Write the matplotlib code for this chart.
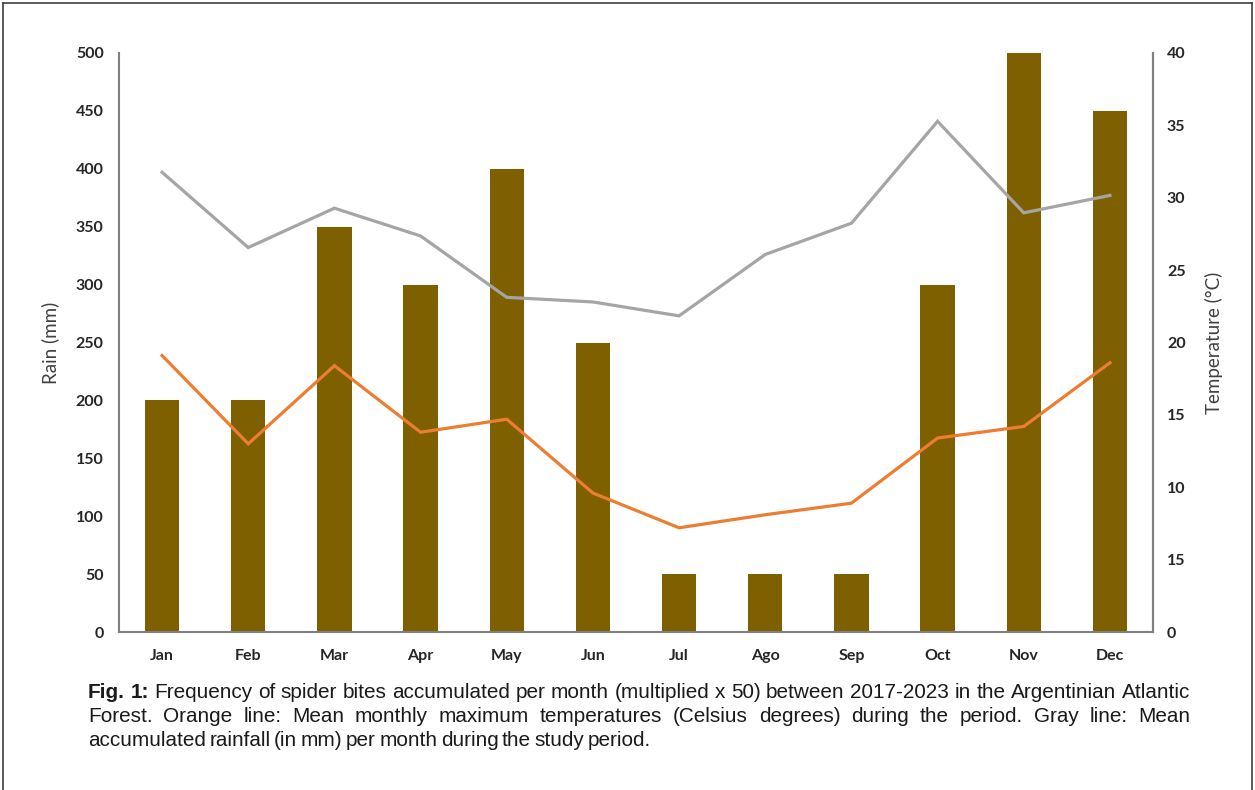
import matplotlib
matplotlib.use("Agg")
import matplotlib.pyplot as plt
from matplotlib.lines import Line2D
from matplotlib import font_manager

# ---------------- data ----------------
months = ["Jan", "Feb", "Mar", "Apr", "May", "Jun", "Jul", "Ago", "Sep", "Oct", "Nov", "Dec"]
bites_x50 = [200, 200, 350, 300, 400, 250, 50, 50, 50, 300, 500, 450]
rain_mm = [397, 332, 366, 342, 289, 285, 273, 326, 353, 441, 362, 377]
temp_max = [19.1, 13.0, 18.4, 13.8, 14.7, 9.6, 7.2, 8.1, 8.9, 13.4, 14.2, 18.6]
left_ticks = [0, 50, 100, 150, 200, 250, 300, 350, 400, 450, 500]
right_ticks = [0, 5, 10, 15, 20, 25, 30, 35, 40]
right_tick_labels = ["0", "15", "10", "15", "20", "25", "30", "35", "40"]

caption_lines = [
    [("Fig. 1:", True), ("Frequency of spider bites accumulated per month (multiplied x 50) between 2017-2023 in the Argentinian Atlantic", False)],
    [("Forest. Orange line: Mean monthly maximum temperatures (Celsius degrees) during the period. Gray line: Mean", False)],
    [("accumulated rainfall (in mm) per month during the study period.", False)],
]

# ---------------- figure ----------------
W, H = 1255, 790
fig = plt.figure(figsize=(W / 100, H / 100), dpi=100)
fig.patch.set_facecolor("white")

def fx(px):
    return px / W

def fy(py):
    return 1 - py / H

ax = fig.add_axes([fx(119), fy(632), fx(1153) - fx(119), fy(53) - fy(632)])
ax2 = ax.twinx()

tick_font = dict(family=["Lato", "DejaVu Sans"], weight="bold", size=11.5)
lab_font = dict(family=["Lato", "DejaVu Sans"], size=13.5)
spine_col = "#808080"
text_col = "#262626"

x = list(range(len(months)))
ax.bar(x, bites_x50, width=0.4, color="#7F6000", zorder=2)
ax.plot(x, rain_mm, color="#A5A5A5", lw=2.3, zorder=3, solid_joinstyle="miter")
ax2.plot(x, temp_max, color="#ED7D31", lw=2.3, zorder=3, solid_joinstyle="miter")

ax.set_xlim(-0.5, 11.5)
ax.set_ylim(0, 500)
ax2.set_ylim(0, 40)

ax.set_yticks(left_ticks)
ax.set_yticklabels([str(v) for v in left_ticks], fontdict=tick_font, color=text_col)
ax2.set_yticks(right_ticks)
ax2.set_yticklabels(right_tick_labels, fontdict=tick_font, color=text_col)
ax.set_xticks(x)
ax.set_xticklabels(months, fontdict=tick_font, color=text_col)

ax.tick_params(axis="y", length=0, pad=11)
ax.tick_params(axis="x", length=0, pad=12)
ax2.tick_params(axis="y", length=0, pad=10)

for a in (ax, ax2):
    for s in a.spines.values():
        s.set_color(spine_col)
        s.set_linewidth(1.5)
    a.spines["top"].set_visible(False)
ax2.spines["left"].set_visible(False)
ax2.spines["bottom"].set_visible(False)

ax.set_ylabel("Rain (mm)", fontdict=lab_font, color="#404040", labelpad=12)
ax2.set_ylabel("Temperature (°C)", fontdict=lab_font, color="#404040", labelpad=14)

# outer frame
frame_col = "#404040"
fig.add_artist(Line2D([fx(3), fx(3)], [fy(3), 0], color=frame_col, lw=1.2))
fig.add_artist(Line2D([fx(3), fx(1252)], [fy(3), fy(3)], color=frame_col, lw=1.2))
fig.add_artist(Line2D([fx(1252), fx(1252)], [fy(3), 0], color=frame_col, lw=1.2))

# ---------------- caption (justified) ----------------
fig.canvas.draw()
renderer = fig.canvas.get_renderer()

cap_family = ["Liberation Sans", "DejaVu Sans"]
try:
    font_manager.findfont(font_manager.FontProperties(family="Liberation Sans Narrow"),
                          fallback_to_default=False)
    cap_family = ["Liberation Sans Narrow", "Liberation Sans", "DejaVu Sans"]
    narrow = True
except Exception:
    narrow = False

def text_width(s, size, bold):
    t = fig.text(0, 0, s, fontsize=size, family=cap_family, weight="bold" if bold else "normal")
    w = t.get_window_extent(renderer).width
    t.remove()
    return w

# choose a size so the last (natural) line is ~563 px wide
base = 12.0
w0 = text_width(caption_lines[2][0][0], base, False)
cap_size = base * 563 / w0
if not narrow:
    cap_size *= 1.04

x_left, x_right = 88, 1190
line_y = [692, 717, 741]
for li, segs in enumerate(caption_lines):
    words = []
    for txt, bold in segs:
        for w in txt.split(" "):
            words.append((w, bold))
    widths = [text_width(w, cap_size, b) for w, b in words]
    if li < 2:
        gap = (x_right - x_left - sum(widths)) / (len(words) - 1)
    else:
        gap = (563 - sum(widths)) / (len(words) - 1)
    cx = x_left
    for (w, b), ww in zip(words, widths):
        fig.text(fx(cx), fy(line_y[li]), w, fontsize=cap_size, family=cap_family,
                 weight="bold" if b else "normal", color="#1a1a1a", ha="left", va="center")
        cx += ww + gap

fig.savefig("out.png", dpi=100)
